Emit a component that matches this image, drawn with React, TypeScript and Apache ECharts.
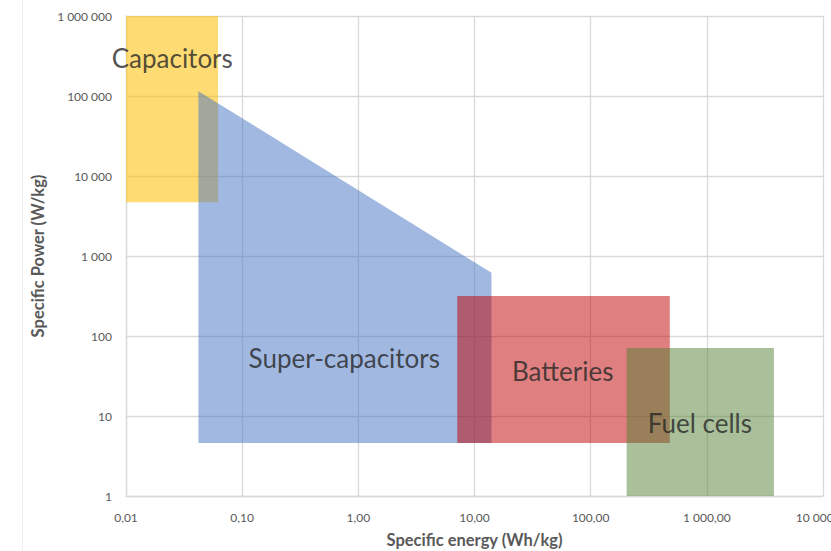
import React, { useEffect, useRef } from "react";
import * as echarts from "echarts";

const xTickLabels = ["0,01", "0,10", "1,00", "10,00", "100,00", "1 000,00", "10 000,00"];
const yTickLabels = ["1", "10", "100", "1 000", "10 000", "100 000", "1 000 000"];

// polygons in data coordinates [energy Wh/kg, power W/kg]
const capacitors = [[0.01, 4700], [0.01, 1000000], [0.062, 1000000], [0.062, 4700]];
const superCapacitors = [[0.042, 4.6], [0.042, 115000], [14, 616], [14, 4.6]];
const batteries = [[7.1, 4.6], [7.1, 316], [480, 316], [480, 4.6]];
const fuelCells = [[204, 1], [204, 71], [3780, 71], [3780, 1]];

const shapeNames = ["Capacitors", "Super-capacitors", "Batteries", "Fuel cells"];
const shapeColors = [
  "rgba(255,192,0,0.55)",
  "rgba(68,114,196,0.5)",
  "rgba(192,0,0,0.5)",
  "rgba(84,130,53,0.5)",
];
const labelPositions = [[0.025, 298000], [0.757, 53], [57.4, 36.5], [871, 8.2]];

const shapes = [capacitors, superCapacitors, batteries, fuelCells];

export default function App() {
  const ref = useRef<HTMLDivElement>(null);
  useEffect(() => {
    document.body.style.margin = "0";
    const chart = echarts.init(ref.current!, null, { renderer: "svg" });
    const font = "Lato";
    const polySeries = shapes.map((pts, i) => ({
      type: "custom",
      name: shapeNames[i],
      coordinateSystem: "cartesian2d",
      data: pts,
      z: 2 + i,
      renderItem: (params: any, api: any) => {
        if (params.dataIndex !== 0) return null;
        const points = pts.map((p) => api.coord(p));
        return {
          type: "polygon",
          shape: { points },
          style: { fill: shapeColors[i] },
        };
      },
    }));
    chart.setOption({
      animation: false,
      textStyle: { fontFamily: font },
      grid: { left: 126, right: 8, top: 16, bottom: 55, containLabel: false, outerBoundsMode: "none" },
      graphic: [
        {
          type: "line",
          shape: { x1: 22.5, y1: 0, x2: 22.5, y2: 551 },
          style: { stroke: "#f0f0f0", lineWidth: 1 },
          silent: true,
        },
      ],
      xAxis: {
        type: "log",
        logBase: 10,
        min: 0.01,
        max: 10000,
        name: "Specific energy (Wh/kg)",
        nameLocation: "middle",
        nameGap: 35,
        nameTextStyle: { color: "#595959", fontSize: 16.5, fontWeight: "bold", fontFamily: font },
        axisLine: { show: true, lineStyle: { color: "#d9d9d9", width: 1.3 } },
        axisTick: { show: false },
        minorTick: { show: false },
        splitLine: { show: true, lineStyle: { color: "#d9d9d9", width: 1.3 } },
        axisLabel: {
          color: "#595959",
          fontSize: 12,
          margin: 15,
          fontFamily: font,
          hideOverlap: false,
          formatter: (v: number) => xTickLabels[Math.round(Math.log10(v)) + 2],
        },
      },
      yAxis: {
        type: "log",
        logBase: 10,
        min: 1,
        max: 1000000,
        name: "Specific Power (W/kg)",
        nameLocation: "middle",
        nameGap: 76,
        nameTextStyle: { color: "#595959", fontSize: 16.5, fontWeight: "bold", fontFamily: font },
        axisLine: { show: true, lineStyle: { color: "#d9d9d9", width: 1.3 } },
        axisTick: { show: false },
        splitLine: { show: true, lineStyle: { color: "#d9d9d9", width: 1.3 } },
        axisLabel: {
          color: "#595959",
          fontSize: 12,
          margin: 14,
          fontFamily: font,
          formatter: (v: number) => yTickLabels[Math.round(Math.log10(v))],
        },
      },
      series: [
        ...polySeries,
        {
          type: "scatter",
          symbolSize: 0,
          z: 10,
          data: labelPositions.map((p, i) => ({ value: p, name: shapeNames[i] })),
          label: {
            show: true,
            position: "inside",
            formatter: "{b}",
            fontSize: 26,
            color: "#262626",
            fontFamily: font,
          },
        },
      ],
    });
    return () => chart.dispose();
  }, []);
  return <div ref={ref} style={{ width: 831, height: 551 }} />;
}
